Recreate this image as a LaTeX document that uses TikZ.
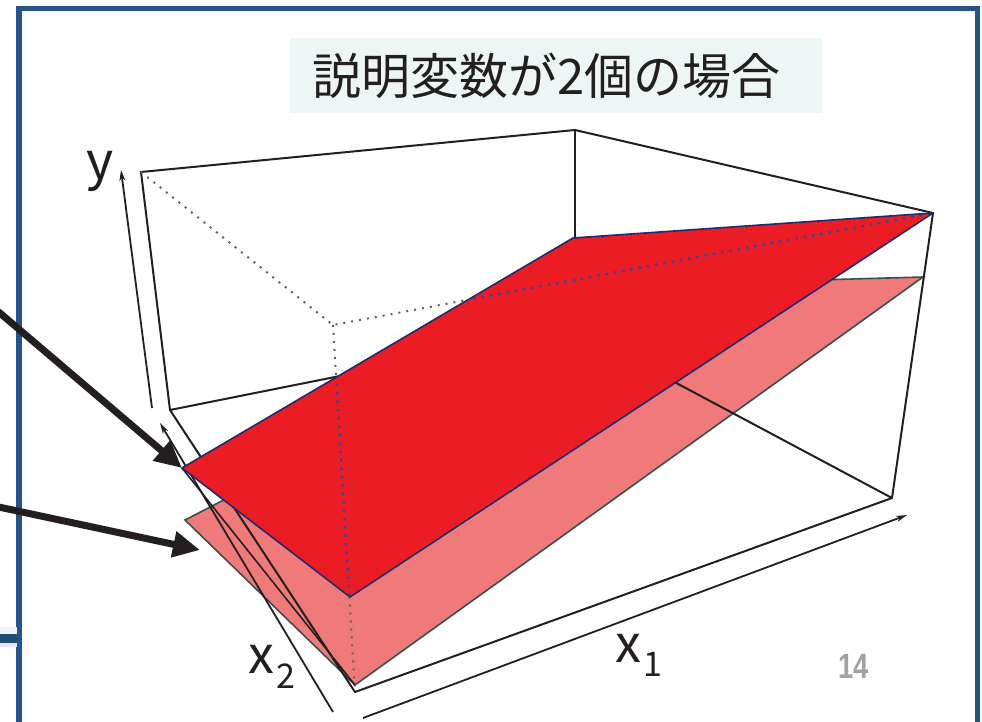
\documentclass[tikz,border=0pt]{standalone}
\usepackage{fontspec}
\newfontfamily\jpfont{Noto Sans CJK JP}
\newfontfamily\pgfont{Liberation Sans}
\usetikzlibrary{arrows.meta}
\definecolor{frameblue}{HTML}{24548A}
\definecolor{barblue}{HTML}{1F4E79}
\definecolor{barlight}{HTML}{F2F5F8}
\definecolor{redfill}{HTML}{EC1C24}
\definecolor{pinkfill}{HTML}{F07A7A}
\definecolor{titlebg}{HTML}{EEF6F5}
\definecolor{navyedge}{HTML}{1E2C6E}
\definecolor{bluedotc}{HTML}{2B4BA0}
\definecolor{inkc}{HTML}{231F20}
\definecolor{pinkedgec}{HTML}{3A5050}
\definecolor{pagegrey}{HTML}{A0A3A6}
\begin{document}
\begin{tikzpicture}[x=1pt,y=-1pt,
  boxline/.style={draw=inkc,line width=2pt},
  hiddenline/.style={draw=gray!75!black,line width=2pt,dash pattern=on 2pt off 6pt},
  bluedot/.style={draw=bluedotc,line width=2.4pt,dash pattern=on 2.4pt off 6pt},
  axisline/.style={draw=inkc,line width=1.8pt,-{Stealth[length=11pt,width=6pt]}},
  callout/.style={draw=inkc,line width=7pt,-{Triangle[length=27pt,width=25pt]}},
  pinkedge/.style={draw=pinkedgec,line width=1.6pt},
  rededge/.style={draw=navyedge,line width=1.6pt,line join=round},
  lbl/.style={inner sep=0pt,text=inkc,font=\jpfont\fontsize{52}{60}\selectfont},
  sublbl/.style={inner sep=0pt,text=inkc,font=\jpfont\fontsize{34}{40}\selectfont}]
\useasboundingbox (0,0) rectangle (982,722);
\fill[white] (0,0) rectangle (982,722);

% frame
\draw[frameblue,line width=5.5pt] (19,740) -- (19,8.5) -- (977.5,8.5) -- (977.5,740);
\fill[barlight] (0,627) rectangle (16.5,634);
\fill[barblue] (0,634) rectangle (16.5,643);
\fill[blue!10!white] (0,643) rectangle (16.5,647);

% title
\node[fill=titlebg,minimum width=532pt,minimum height=75pt,inner sep=0pt] (titlebox) at (556,75.5) {};
\node[anchor=base west,inner sep=0pt,text=inkc,font=\jpfont\fontsize{49}{58}\selectfont] (title) at (312,95) {説明変数が2個の場合};

% box vertices
\coordinate (T1) at (141,172);
\coordinate (T2) at (575,130);
\coordinate (T3) at (933,213);
\coordinate (T4) at (333,325);
\coordinate (B1) at (170,410);
\coordinate (B2) at (575,329);
\coordinate (B3) at (892,498);
\coordinate (B4) at (355,692);
% planes
\coordinate (P1) at (182,468);
\coordinate (P2) at (573,238);
\coordinate (P3) at (933,213);
\coordinate (P4) at (350,597);
\coordinate (Q1) at (185,520);
\coordinate (Q2) at (640,285);
\coordinate (Q3) at (923,277);
\coordinate (Q4) at (355,685);
% axes
\coordinate (Ya) at (152,408);
\coordinate (Yb) at (121,170);
\coordinate (X2a) at (333,712);
\coordinate (X2b) at (160,423);
\coordinate (X1a) at (363,718);
\coordinate (X1b) at (907,515);

% lower (pink) plane
\fill[pinkfill] (Q1) -- (Q2) -- (Q3) -- (Q4) -- cycle;
\draw[pinkedge] (Q1) -- (Q2) -- (Q3) -- (Q4) -- cycle;

% box
\draw[boxline] (T1) -- (T2) -- (T3) -- (B3) -- (B4) -- (B1) -- cycle;
\draw[boxline] (B1) -- (B2) -- (B3);
\draw[boxline] (T2) -- (B2);
\draw[hiddenline] (T1) -- (T4) -- (T3);
\draw[hiddenline] (T4) -- (B4);
\draw[pinkedge,draw=inkc] (P1) -- (Q4);

% axes
\draw[axisline] (Ya) -- (Yb);
\draw[axisline] (X2a) -- (X2b);
\draw[axisline] (X1a) -- (X1b);

% upper (red) plane
\fill[redfill] (P1) -- (P2) -- (P3) -- (P4) -- cycle;
\begin{scope}
  \clip (P1) -- (P2) -- (P3) -- (P4) -- cycle;
  \draw[bluedot] (T4) -- (T3);
  \draw[bluedot] (T4) -- (B4);
\end{scope}
\draw[rededge] (P1) -- (P2) -- (P3) -- (P4) -- cycle;

% callout arrows
\coordinate (A0) at (-6,308);
\coordinate (C0) at (-6,506);
\coordinate (Ct) at (200,550);
\draw[callout] (A0) -- (P1);
\draw[callout] (C0) -- (Ct);

% labels
\node[lbl,anchor=base west] (ylab) at (86,180) {y};
\node[lbl,anchor=base west] (x2lab) at (248,673) {x};
\node[sublbl,anchor=base west] (x2sub) at (276,688) {2};
\node[lbl,anchor=base west] (x1lab) at (615,662) {x};
\node[sublbl,anchor=base west] (x1sub) at (643,676) {1};
\node[inner sep=0pt,anchor=base west,text=pagegrey,font=\pgfont\bfseries\fontsize{35}{40}\selectfont] (pagenum) at (838,678) {\scalebox{0.78}[1]{14}};
\end{tikzpicture}
\end{document}
